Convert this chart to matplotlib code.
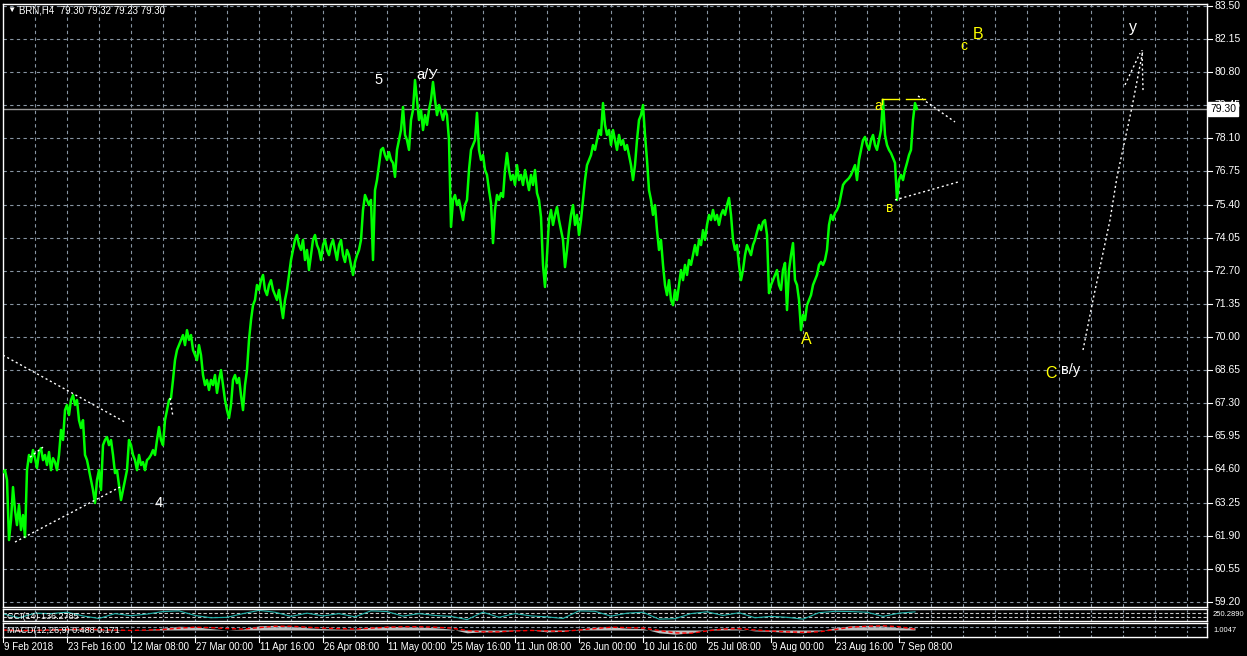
import numpy as np
import matplotlib.pyplot as plt
from matplotlib import transforms

plt.rcParams['font.family'] = ['Liberation Sans', 'DejaVu Sans']

# BRN H4 close, one value every 2nd bar (bar 0 = 9 Feb 2018 00:00)
bar_step = 2
brn_close = [
    64.49, 64.57, 64.17, 61.72, 62.53, 63.88, 62.94, 62.33, 63.15, 62.13, 62.74, 61.84, 64.57, 65.19, 64.90,
    65.39, 65.06, 64.66, 65.31, 65.47, 64.98, 65.19, 64.78, 65.31, 64.57, 65.06, 64.90, 64.57, 65.19, 66.21,
    65.80, 67.02, 67.23, 66.82, 67.43, 67.63, 67.23, 67.43, 66.61, 66.29, 66.61, 65.19, 64.98, 64.57, 64.17,
    63.76, 63.23, 64.17, 64.57, 63.76, 65.59, 65.80, 65.92, 65.59, 65.80, 65.19, 64.45, 64.57, 63.96, 63.35,
    63.76, 64.17, 64.57, 65.80, 65.59, 65.19, 64.98, 64.57, 65.19, 64.78, 64.90, 64.57, 64.98, 65.06, 65.19,
    65.39, 65.19, 65.80, 66.33, 65.80, 65.59, 66.61, 67.02, 67.43, 67.51, 68.25, 69.06, 69.47, 69.67,
    69.88, 70.08, 69.67, 70.28, 69.88, 70.08, 69.47, 69.26, 69.06, 69.67,
    69.26, 68.45, 68.04, 68.25, 67.84, 68.25, 68.04, 68.45, 67.72, 68.25,
    68.65, 68.04, 67.43, 67.02, 66.70, 67.23, 68.25, 68.45, 68.12, 68.33,
    67.63, 67.02, 68.04, 68.65, 69.88, 70.69, 71.30, 71.51, 72.12, 71.92,
    72.32, 72.53, 71.92, 71.71, 72.12, 72.32, 71.92, 71.71, 71.51, 71.92,
    71.30, 70.77, 71.51, 71.92, 72.53, 73.14, 73.55, 73.96, 74.16, 73.75,
    73.55, 73.96, 73.14, 73.55, 72.73, 73.34, 73.96, 74.16, 73.75, 73.55,
    73.14, 73.75, 73.96, 73.55, 73.34, 73.75, 73.96, 73.55, 73.14, 73.75,
    73.96, 73.34, 73.06, 73.55, 73.34, 72.94, 72.53, 73.06, 73.34, 73.55,
    73.96, 75.18, 75.79, 75.59, 75.38, 75.59, 73.14, 75.99, 76.40, 77.01, 77.63, 77.71, 77.42, 77.22, 77.54,
    77.22, 77.10, 76.53, 77.63, 78.03, 78.44,
    79.38, 78.24, 78.03, 77.63, 78.85, 79.26, 80.48,
    79.67, 78.85, 79.26, 78.44, 79.05, 78.65, 79.26, 79.67,
    80.40, 79.67, 79.05, 79.46, 79.18, 78.85, 79.26, 79.05, 78.03, 74.49,
    75.59, 75.79, 75.38, 75.59, 75.18, 74.77, 75.38, 75.59, 76.81, 77.63, 77.83, 78.03, 79.14, 77.63, 77.22,
    77.42, 76.81, 76.61, 75.99, 75.46,
    73.83, 75.18, 75.79, 75.59, 75.87, 75.71, 76.81, 77.50, 76.81, 76.40, 76.61, 76.20, 77.01, 76.40, 76.61,
    76.20, 76.81, 76.40, 75.99, 76.61, 76.20, 76.81, 75.87, 75.59, 74.89, 72.94,
    72.04,
    73.34, 74.77, 75.18, 74.57, 74.98, 75.30, 74.77, 74.36, 73.96, 72.85, 73.55, 74.36, 74.98, 75.38, 74.57,
    74.98, 74.16, 74.77, 75.59, 76.40, 77.01, 77.22, 77.42, 77.83, 77.63, 78.03, 78.44, 78.24, 79.54, 78.65,
    78.24, 78.44, 77.83, 78.44, 78.03, 77.63, 78.24, 77.83, 78.03, 77.63, 77.83, 77.42, 77.01, 76.40, 77.01,
    78.03, 78.85, 79.05,
    79.46, 78.24, 77.22, 75.99, 75.59,
    74.98, 75.38, 74.36, 73.55, 73.96, 72.94, 72.12, 71.71, 72.32, 71.51,
    71.30, 71.92, 71.51, 72.12, 72.73, 72.32, 72.94, 72.53, 73.14, 72.94,
    73.34, 73.75, 73.34, 73.96, 73.75, 74.36, 73.96, 74.57, 74.98, 74.77,
    75.18, 74.77, 74.98, 74.57, 74.98, 75.18, 74.98, 75.38, 75.67, 74.98,
    73.96, 73.55, 73.75, 72.94, 72.32, 72.73, 73.34, 73.75, 73.55, 73.34,
    73.75, 73.96, 74.28, 74.57, 74.36, 74.69, 74.77, 74.16,
    71.79, 72.12, 72.32, 72.53, 72.73, 72.12, 71.92, 72.73, 73.02, 71.10,
    72.73, 73.34, 73.83, 72.32, 72.12, 71.51, 70.28, 70.90, 70.69, 71.30,
    71.51, 71.71, 72.12, 72.32, 72.53, 72.94, 73.06, 72.94, 73.14, 73.55,
    74.57, 74.98, 74.77, 75.06, 75.18, 75.38, 75.79, 76.20, 76.32, 76.40,
    76.48, 76.61,
    76.81, 77.01, 76.40, 77.22, 77.63, 78.03, 78.16, 77.83, 77.63, 78.03, 78.24, 77.83, 77.63, 78.03, 78.44,
    79.67, 78.24, 77.83, 77.63, 77.50, 77.30, 77.10, 75.59, 76.40, 76.61, 76.40, 76.81, 77.10, 77.42, 77.63,
    78.85, 79.54, 79.30,
]
last_price = 79.30
header = 'BRN,H4  79.30 79.32 79.23 79.30'

price_ticks = [83.50, 82.15, 80.80, 79.45, 78.10, 76.75, 75.40, 74.05, 72.70, 71.35,
               70.00, 68.65, 67.30, 65.95, 64.60, 63.25, 61.90, 60.55, 59.20]
date_labels = ['9 Feb 2018', '23 Feb 16:00', '12 Mar 08:00', '27 Mar 00:00', '11 Apr 16:00',
               '26 Apr 08:00', '11 May 00:00', '25 May 16:00', '11 Jun 08:00', '26 Jun 00:00',
               '10 Jul 16:00', '25 Jul 08:00', '9 Aug 00:00', '23 Aug 16:00', '7 Sep 08:00']
bars_per_label = 64

# indicators, one value every 16 bars
ind_step = 16
macd_main = [0.0, -0.3, 0.1, 0.2, 0.3, 0.2, -0.2, -0.1, 0.0, 0.1,
             0.4, 0.8, 0.7, 0.3, 0.0, 0.2, 0.9, 1.0, 0.8, 0.5,
             0.3, 0.2, 0.2, 0.6, 0.8, 0.7, 0.6, 0.5, 0.2, -0.6,
             -0.4, -0.4, -0.1, 0.0, -0.4, -0.3, 0.2, 0.6, 0.7, 0.4,
             0.3, -0.6, -0.9, -0.6, 0.1, 0.4, 0.2, -0.2, -0.3, -0.5,
             -0.6, -0.2, 0.5, 0.9, 1.0, 0.9, 0.5, 0.49]
macd_signal = [0.0, -0.1, -0.1, 0.0, 0.1, 0.2, 0.1, 0.0, -0.1, 0.0,
               0.1, 0.4, 0.6, 0.5, 0.3, 0.2, 0.5, 0.8, 0.8, 0.6,
               0.4, 0.3, 0.2, 0.4, 0.6, 0.7, 0.7, 0.6, 0.4, -0.1,
               -0.4, -0.4, -0.2, -0.1, -0.2, -0.3, 0.0, 0.3, 0.6, 0.5,
               0.4, -0.1, -0.6, -0.7, -0.2, 0.2, 0.3, 0.0, -0.2, -0.4,
               -0.5, -0.4, 0.1, 0.6, 0.8, 0.9, 0.7, 0.17]
cci_values = [50, -120, 80, 60, 120, -40, -150, 60, -30, 40,
              150, 180, -20, -120, -100, 60, 200, 120, -60, 80,
              -40, 60, -80, 180, 150, -50, 60, -20, -60, -200,
              120, -100, 60, -40, -80, -150, 180, 160, -50, 80,
              120, -180, -160, 60, 140, -20, 100, -120, -60, -100,
              -180, 100, 160, 150, 120, -60, 80, 136]

# wave labels: text, bar, price, colour, size
wave_labels = [
    ('5', 376, 80.48, 'white', 10.5), ('a/У', 424, 80.69, 'white', 10.5),
    ('4', 156, 63.23, 'white', 10.5), ('A', 803, 69.88, 'yellow', 11.5),
    ('в', 887, 75.26, 'yellow', 10), ('a', 875, 79.42, 'yellow', 10),
    ('c', 961, 81.87, 'yellow', 10), ('B', 975, 82.32, 'yellow', 11.5),
    ('у', 1130, 82.64, 'white', 11.5), ('C', 1048, 68.53, 'yellow', 11.5),
    ('в/у', 1068, 68.65, 'white', 10.5),
]
# dotted trend lines (bar, price) pairs
trend_lines = [
    ([0, 122], [69.26, 66.53]),
    ([12, 117], [61.64, 63.88]),
    ([27, 40], [65.10, 65.51]),
    ([167, 170], [67.51, 66.74]),
    ([915, 952], [79.83, 78.77]),
    ([892, 955], [75.59, 76.32]),
    ([1080, 1090, 1107, 1114, 1129, 1140], [69.47, 71.51, 74.77, 76.53, 79.38, 81.70]),
    ([1122, 1137], [80.28, 81.58]),
    ([1140, 1139], [80.07, 81.70]),
]
yellow_lines = [([879, 896], [79.70, 79.70]), ([903, 922], [79.70, 79.70]), ([879, 879], [79.70, 79.50])]

W, H = 1247, 656
grid_c = '#8794a2'
fig = plt.figure(figsize=(W / 100, H / 100), dpi=100, facecolor='black')


def px_axes(l, t, r, b):
    a = fig.add_axes([l / W, 1 - b / H, (r - l) / W, (b - t) / H], facecolor='black')
    a.set_xticks([])
    a.set_yticks([])
    for s in a.spines.values():
        s.set_color('white')
        s.set_linewidth(1)
    a.set_xlim(0, 1204)
    return a


ax = px_axes(3, 4, 1207, 607)
ax.set_ylim(58.99, 83.58)
for p in price_ticks:
    ax.axhline(p, color=grid_c, lw=0.8, ls=(0, (3, 3)), zorder=0)
for b in range(32, 1204, 32):
    ax.axvline(b, color=grid_c, lw=0.8, ls=(0, (3, 3)), zorder=0)

ax.axhline(last_price, color='#9a9a9a', lw=1, zorder=1)
bars = np.arange(len(brn_close)) * bar_step
ax.plot(bars, brn_close, color='#00ff00', lw=1.8, zorder=3)

for xs, ys in trend_lines:
    ax.plot(xs, ys, color='white', lw=1, ls=(0, (1.5, 2)), zorder=4)
for xs, ys in yellow_lines:
    ax.plot(xs, ys, color='yellow', lw=1, zorder=4)
for txt, b, p, c, s in wave_labels:
    ax.text(b, p, txt, color=c, fontsize=s, ha='center', va='center', zorder=5)

ytr = transforms.blended_transform_factory(ax.transAxes, ax.transData)
for p in price_ticks:
    ax.plot([1.0, 1.004], [p, p], color='white', lw=0.8, transform=ytr, clip_on=False)
    ax.text(1.006, p, f'{p:.2f}', color='white', fontsize=7.5, va='center', transform=ytr)
ax.text(1.0025, last_price, f'{last_price:.2f}', color='black', fontsize=7.5, va='center', transform=ytr,
        bbox=dict(boxstyle='square,pad=0.2', fc='white', ec='white'), zorder=6)

ax.text(0.0035, 0.99, '▼', color='white', fontsize=6, va='center', transform=ax.transAxes)
ax.text(0.0135, 0.99, header, color='white', fontsize=7, va='center', transform=ax.transAxes)

# CCI panel
ax_c = px_axes(3, 609, 1207, 621)
ax_c.set_ylim(-260, 260)
for lv in (100, -100):
    ax_c.axhline(lv, color='#c8c8c8', lw=0.8, ls=(0, (3, 2)))
for b in range(32, 1204, 32):
    ax_c.axvline(b, color=grid_c, lw=0.8, ls=(0, (2, 2)))
ind_bars = np.arange(len(cci_values)) * ind_step
ax_c.plot(ind_bars, cci_values, color='#20b2aa', lw=0.8)
ax_c.text(0.003, 0.35, 'CCI(14) 136.2785', color='white', fontsize=6.5, va='center', transform=ax_c.transAxes)
ax_c.text(1.005, 0.5, '250.2890', color='white', fontsize=5.5, va='center', transform=ax_c.transAxes, clip_on=False)

# MACD panel
ax_m = px_axes(3, 623, 1207, 637)
ax_m.set_ylim(-1.5, 1.5)
ax_m.axhline(0.6, color=grid_c, lw=0.8, ls=(0, (3, 2)))
for b in range(32, 1204, 32):
    ax_m.axvline(b, color=grid_c, lw=0.8, ls=(0, (2, 2)))
ax_m.fill_between(ind_bars, 0, macd_main, color='#c0c0c0', lw=0)
ax_m.plot(ind_bars, macd_signal, color='red', lw=1, ls=(0, (3, 2)))
ax_m.text(0.003, 0.45, 'MACD(12,26,9) 0.488 0.171', color='white', fontsize=6.5, va='center',
          transform=ax_m.transAxes)
ax_m.text(1.005, 0.5, '1.0047', color='white', fontsize=5.5, va='center', transform=ax_m.transAxes, clip_on=False)

# time axis
xtr = transforms.blended_transform_factory(ax_m.transData, fig.transFigure)
for i, lab in enumerate(date_labels):
    b = i * bars_per_label
    ax_m.plot([b, b], [1 - 637 / H, 1 - 642 / H], color='white', lw=0.8, transform=xtr, clip_on=False)
    ax_m.text(b + 1, 1 - 647 / H, lab, color='white', fontsize=7, ha='left', va='center', transform=xtr)

fig.savefig('out.png', dpi=100, facecolor='black')
